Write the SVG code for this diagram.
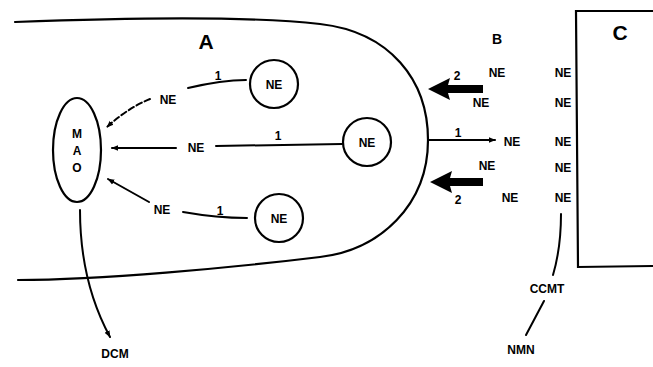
<svg xmlns="http://www.w3.org/2000/svg" width="653" height="367" viewBox="0 0 653 367">
  <defs>
    <marker id="head" viewBox="0 0 10 10" refX="9" refY="5" markerWidth="7" markerHeight="7" orient="auto-start-reverse" markerUnits="userSpaceOnUse">
      <path d="M0,1 L10,5 L0,9 z" fill="#000"/>
    </marker>
  </defs>
  <style>
    .ln { fill: none; stroke: #000; stroke-width: 2.2; stroke-linecap: round; }
    .thin { fill: none; stroke: #000; stroke-width: 2; stroke-linecap: round; }
    .fat { fill: #000; stroke: none; }
    .t { font-family: "Liberation Sans", "DejaVu Sans", sans-serif; font-weight: bold; fill: #000; text-anchor: middle; }
    .s { font-size: 12px; }
    .m { font-size: 14px; }
    .big { font-size: 21px; }
  </style>
  <rect width="653" height="367" fill="#fff"/>

  <!-- region A outline -->
  <g id="regionA">
    <path class="ln" d="M15,22 C120,18 250,16 320,24 C390,32 428,80 428,140 C428,205 380,250 320,257 C230,268 100,280 18,280"/>
    <text class="t big" x="206" y="49">A</text>
  </g>

  <!-- region C box -->
  <g id="regionC">
    <path class="ln" d="M653,11 L576,11 L578,267 L653,266"/>
    <text class="t big" x="620" y="40">C</text>
  </g>

  <text class="t m" x="497" y="44">B</text>

  <!-- MAO -->
  <g id="mao">
    <ellipse class="ln" cx="77" cy="150" rx="24" ry="52"/>
    <text class="t s" x="77" y="138">M</text>
    <text class="t s" x="77" y="155">A</text>
    <text class="t s" x="77" y="172">O</text>
  </g>

  <!-- NE nodes in A -->
  <g id="ne1">
    <circle class="ln" cx="274" cy="84" r="24"/>
    <text class="t s" x="274" y="89">NE</text>
  </g>
  <g id="ne2">
    <circle class="ln" cx="367" cy="142" r="24"/>
    <text class="t s" x="367" y="147">NE</text>
  </g>
  <g id="ne3">
    <circle class="ln" cx="279" cy="218" r="24"/>
    <text class="t s" x="279" y="223">NE</text>
  </g>

  <!-- connectors -->
  <g id="connectors">
    <path class="thin" d="M246,80 C225,80 205,84 188,88"/>
    <path class="thin" d="M150,99 C135,105 120,115 107,127" stroke-dasharray="6,3" marker-end="url(#head)"/>
    <path class="thin" d="M342,144 L216,146"/>
    <path class="thin" d="M176,148 L112,148" marker-end="url(#head)"/>
    <path class="thin" d="M247,218 C225,218 200,215 183,212"/>
    <path class="thin" d="M149,202 L108,179" marker-end="url(#head)"/>
    <path class="thin" d="M428,140 L495,140" marker-end="url(#head)"/>
    <!-- broad arrows pointing into A -->
    <path class="fat" d="M483,85 L448,85 L450,78 L428,89 L450,100 L448,93 L483,93 z"/>
    <path class="fat" d="M483,178 L450,178 L452,171 L430,182 L452,193 L450,186 L483,186 z"/>
    <path class="thin" d="M80,210 C80,260 90,300 110,337" marker-end="url(#head)"/>
    <path class="thin" d="M561,214 C561,240 558,258 553,275"/>
    <path class="thin" d="M544,301 L526,335"/>
  </g>

  <!-- connector labels -->
  <g id="labels">
    <text class="t s" x="218" y="80">1</text>
    <text class="t s" x="168" y="104">NE</text>
    <text class="t s" x="278" y="140">1</text>
    <text class="t s" x="196" y="152">NE</text>
    <text class="t s" x="220" y="215">1</text>
    <text class="t s" x="162" y="214">NE</text>
    <text class="t s" x="458" y="137">1</text>
    <text class="t s" x="457" y="80">2</text>
    <text class="t s" x="458" y="204">2</text>
  </g>

  <!-- NE stack at B -->
  <g id="stackB">
    <text class="t s" x="497" y="77">NE</text>
    <text class="t s" x="563" y="77">NE</text>
    <text class="t s" x="481" y="107">NE</text>
    <text class="t s" x="563" y="107">NE</text>
    <text class="t s" x="512" y="146">NE</text>
    <text class="t s" x="563" y="146">NE</text>
    <text class="t s" x="487" y="170">NE</text>
    <text class="t s" x="563" y="172">NE</text>
    <text class="t s" x="510" y="202">NE</text>
    <text class="t s" x="563" y="202">NE</text>
  </g>

  <g id="ccmt">
    <text class="t s" x="547" y="293">CCMT</text>
  </g>
  <g id="nmn">
    <text class="t s" x="521" y="354">NMN</text>
  </g>
  <g id="dcm">
    <text class="t s" x="115" y="358">DCM</text>
  </g>
</svg>
